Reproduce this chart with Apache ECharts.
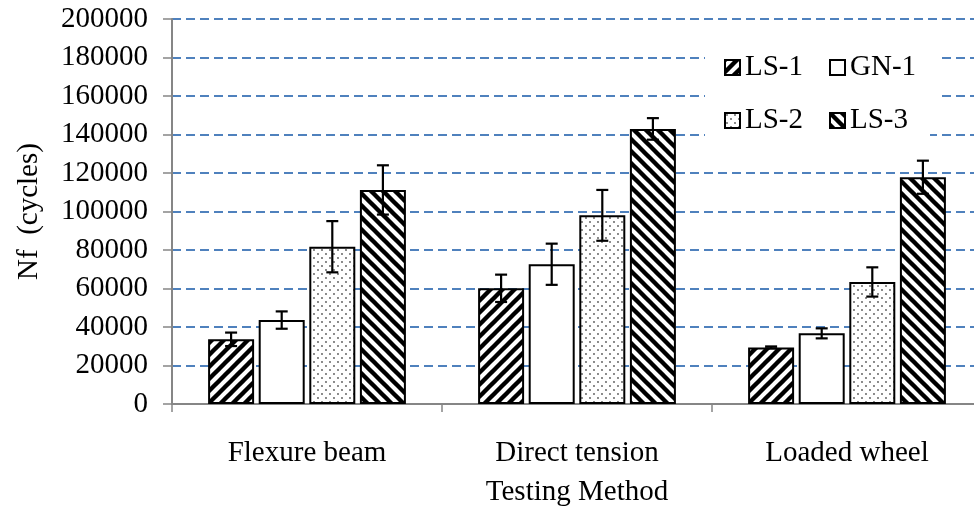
<!DOCTYPE html>
<html>
<head>
<meta charset="utf-8">
<script src="https://cdn.jsdelivr.net/npm/echarts@6/dist/echarts.min.js"></script>
<style>html,body{margin:0;padding:0;background:#fff}#c{width:974px;height:508px}</style>
</head>
<body>
<div id="c"></div>
<script>
const categories = ['Flexure beam', 'Direct tension', 'Loaded wheel'];
const seriesNames = ['LS-1', 'GN-1', 'LS-2', 'LS-3'];
const ls1 = [33600, 60100, 29400];
const gn1 = [43600, 72600, 36700];
const ls2 = [81700, 98000, 63400];
const ls3 = [111200, 142900, 117800];
const ls1Err = [3500, 7100, 500];
const gn1Err = [4500, 10700, 2600];
const ls2Err = [13300, 13200, 7600];
const ls3Err = [12800, 5600, 8600];
const yTicks = [0, 20000, 40000, 60000, 80000, 100000, 120000, 140000, 160000, 180000, 200000];

const values = [ls1, gn1, ls2, ls3];
const errors = [ls1Err, gn1Err, ls2Err, ls3Err];

function stripe(dir) {
  const s = 12, c = document.createElement('canvas');
  c.width = s; c.height = s;
  const g = c.getContext('2d');
  g.fillStyle = '#fff'; g.fillRect(0, 0, s, s);
  g.strokeStyle = '#000'; g.lineWidth = 4.4;
  [-s, 0, s].forEach(o => {
    g.beginPath();
    if (dir === '/') { g.moveTo(o - 2, s + 2); g.lineTo(o + s + 2, -2); }
    else { g.moveTo(o - 2, -2); g.lineTo(o + s + 2, s + 2); }
    g.stroke();
  });
  return c;
}
function dots() {
  const s = 8, c = document.createElement('canvas');
  c.width = s; c.height = s;
  const g = c.getContext('2d');
  g.fillStyle = '#fff'; g.fillRect(0, 0, s, s);
  g.fillStyle = '#555';
  g.beginPath(); g.arc(2, 2, 0.9, 0, Math.PI * 2); g.fill();
  g.beginPath(); g.arc(6, 6, 0.9, 0, Math.PI * 2); g.fill();
  return c;
}
const fills = [
  { image: stripe('/'), repeat: 'repeat' },
  '#ffffff',
  { image: dots(), repeat: 'repeat' },
  { image: stripe('\\'), repeat: 'repeat' }
];

const BAR_W = 46, BAR_GAP = 0.1;
const font = 'Liberation Serif';
const FS = 29;

const series = [];
seriesNames.forEach((n, i) => {
  series.push({
    name: n, type: 'bar', data: values[i], barWidth: BAR_W, barGap: (BAR_GAP * 100) + '%',
    itemStyle: { color: fills[i], borderColor: '#000', borderWidth: 2 },
    emphasis: { disabled: true }, z: 2
  });
});
seriesNames.forEach((n, i) => {
  series.push({
    type: 'custom', z: 5, silent: true,
    data: values[i].map((v, k) => [k, v, errors[i][k]]),
    renderItem: function (params, api) {
      const k = api.value(0), v = api.value(1), e = api.value(2);
      const off = (i - 1.5) * BAR_W * (1 + BAR_GAP);
      const top = api.coord([k, v + e]);
      const bot = api.coord([k, v - e]);
      const x = top[0] + off, hw = 6;
      const st = { stroke: '#000', lineWidth: 2.2 };
      return { type: 'group', children: [
        { type: 'line', shape: { x1: x, y1: top[1], x2: x, y2: bot[1] }, style: st },
        { type: 'line', shape: { x1: x - hw, y1: top[1], x2: x + hw, y2: top[1] }, style: st },
        { type: 'line', shape: { x1: x - hw, y1: bot[1], x2: x + hw, y2: bot[1] }, style: st }
      ]};
    }
  });
});

const legendText = { fontFamily: font, fontSize: FS, color: '#000' };
const legendCommon = {
  icon: 'rect', itemWidth: 15, itemHeight: 15, textStyle: legendText, selectedMode: false,
  backgroundColor: '#fff', padding: [6, 22, 20, 19], itemGap: 26
};
const option = {
  animation: false,
  backgroundColor: '#fff',
  grid: { left: 172, right: -8, top: 19, bottom: 104, containLabel: false, outerBoundsMode: 'none' },
  legend: [
    Object.assign({ data: ['LS-1', 'GN-1'], left: 705, top: 47 }, legendCommon),
    Object.assign({ data: ['LS-2', 'LS-3'], left: 705, top: 100 }, legendCommon)
  ],
  xAxis: {
    type: 'category', data: categories,
    name: 'Testing Method', nameLocation: 'middle', nameGap: 74,
    nameTextStyle: { fontFamily: font, fontSize: FS, color: '#000' },
    axisLine: { lineStyle: { color: '#868686', width: 2 } },
    axisTick: { show: true, length: 8, lineStyle: { color: '#868686', width: 1.5 } },
    axisLabel: { fontFamily: font, fontSize: FS, color: '#000', margin: 35 }
  },
  yAxis: {
    type: 'value', min: yTicks[0], max: yTicks[yTicks.length - 1], interval: yTicks[1] - yTicks[0],
    name: 'Nf  (cycles)', nameLocation: 'middle', nameGap: 128,
    nameTextStyle: { fontFamily: font, fontSize: FS, color: '#000' },
    axisLine: { show: true, lineStyle: { color: '#868686', width: 2 } },
    axisTick: { show: true, length: 9, lineStyle: { color: '#868686', width: 1.5 } },
    axisLabel: { fontFamily: font, fontSize: FS, color: '#000', margin: 24, formatter: v => String(v) },
    splitLine: { show: true, lineStyle: { color: '#4F81BD', width: 2, type: [9, 5] } }
  },
  series: series
};
const chart = echarts.init(document.getElementById('c'), null, { renderer: 'canvas' });
chart.setOption(option);
</script>
</body>
</html>
